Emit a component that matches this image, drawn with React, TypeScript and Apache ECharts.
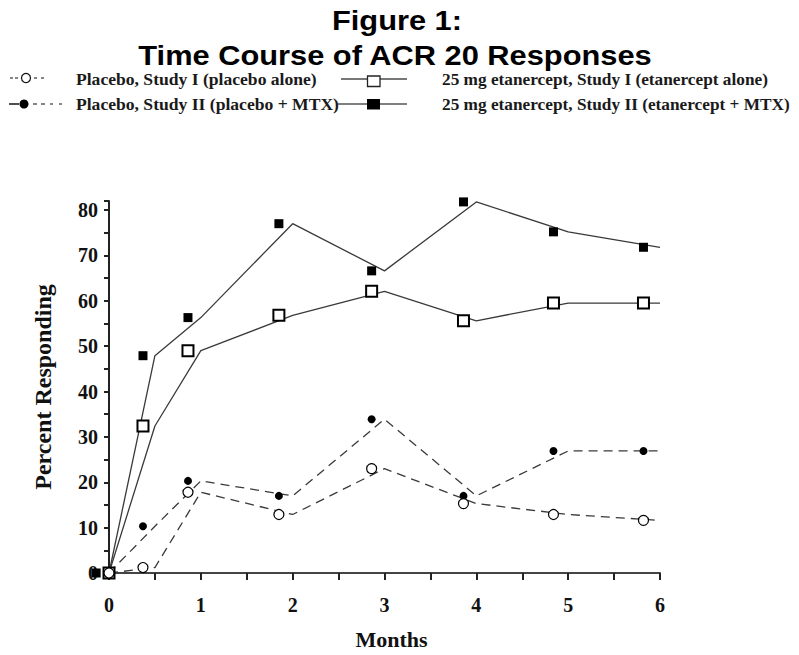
import { useEffect, useRef } from "react";
import * as echarts from "echarts";

// ---- data ----
const lineMonths = [0, 0.5, 1, 2, 3, 4, 5, 6];
const markerMonths = [0, 0.37, 0.86, 1.85, 2.86, 3.86, 4.84, 5.82];
const markerMonthsEtanMtx = [-0.14, 0.37, 0.86, 1.85, 2.86, 3.86, 4.84, 5.82];

const placeboAlone = [0, 1.2, 17.8, 12.9, 23.0, 15.3, 12.9, 11.6];
const placeboMtx = [0, 10.3, 20.3, 17.0, 33.9, 17.0, 26.9, 26.9];
const etanerceptAlone = [0, 32.4, 49.0, 56.8, 62.1, 55.6, 59.5, 59.5];
const etanerceptMtx = [0, 47.9, 56.3, 77.0, 66.6, 81.8, 75.2, 71.8];

const titleLines = ["Figure 1:", "Time Course of ACR 20 Responses"];
const legendLabels = [
  "Placebo, Study I (placebo alone)",
  "Placebo, Study II (placebo + MTX)",
  "25 mg etanercept, Study I (etanercept alone)",
  "25 mg etanercept, Study II (etanercept + MTX)",
];
const xAxisName = "Months";
const yAxisName = "Percent Responding";

const SERIF = "'Liberation Serif', 'Times New Roman', serif";
const SANS = "'Liberation Sans', Arial, sans-serif";
const LINE_COLOR = "#3a3a3a";

const pairs = (xs: number[], ys: number[]) => xs.map((x, i) => [x, ys[i]]);

export default function App() {
  const ref = useRef<HTMLDivElement>(null);
  useEffect(() => {
    if (!ref.current) return;
    const chart = echarts.init(ref.current, null, { renderer: "svg" });

    const lineSeries = (name: string, values: number[], dashed: boolean) => ({
      name,
      type: "line",
      data: pairs(lineMonths, values),
      symbol: "none",
      lineStyle: { color: LINE_COLOR, width: 1.3, type: dashed ? [9, 6] : "solid" },
      z: 2,
    });
    const markerSeries = (
      name: string,
      xs: number[],
      values: number[],
      symbol: string,
      size: number,
      filled: boolean,
      borderWidth: number
    ) => ({
      name,
      type: "scatter",
      data: pairs(xs, values),
      symbol,
      symbolSize: size,
      clip: false,
      itemStyle: {
        color: filled ? "#000" : "#fff",
        borderColor: "#000",
        borderWidth: filled ? 0 : borderWidth,
        opacity: 1,
      },
      z: 3,
    });

    const legendText = (text: string, x: number, y: number, sx: number) => ({
      type: "text",
      x,
      y,
      scaleX: sx,
      style: {
        text,
        fontFamily: SERIF,
        fontWeight: "bold",
        fontSize: 16,
        fill: "#1a1a1a",
        textAlign: "left",
        textVerticalAlign: "middle",
        verticalAlign: "middle",
      },
    });
    const seg = (x1: number, x2: number, y: number, w = 1.3, color = "#444") => ({
      type: "line",
      shape: { x1, y1: y, x2, y2: y },
      style: { stroke: color, lineWidth: w },
    });

    chart.setOption({
      animation: false,
      backgroundColor: "#fff",
      grid: { left: 109, right: 139, top: 201, bottom: 78, containLabel: false },
      xAxis: {
        type: "value",
        min: 0,
        max: 6,
        interval: 0.5,
        name: xAxisName,
        nameLocation: "middle",
        nameGap: 55,
        nameTextStyle: {
          fontFamily: SERIF,
          fontWeight: "bold",
          fontSize: 22,
          color: "#111",
          padding: [0, 0, 0, 14],
        },
        axisLine: { show: true, onZero: false, lineStyle: { color: "#444", width: 2 } },
        axisTick: { show: true, inside: false, length: 7, lineStyle: { color: "#222", width: 2 } },
        axisLabel: {
          margin: 22,
          fontFamily: SERIF,
          fontWeight: "bold",
          fontSize: 20,
          color: "#111",
          formatter: (v: number) => (Number.isInteger(v) ? String(v) : ""),
        },
        splitLine: { show: false },
      },
      yAxis: {
        type: "value",
        min: 0,
        max: 82,
        interval: 5,
        name: yAxisName,
        nameLocation: "middle",
        nameRotate: 90,
        nameGap: 54,
        nameTextStyle: {
          fontFamily: SERIF,
          fontWeight: "bold",
          fontSize: 24,
          color: "#111",
        },
        axisLine: { show: true, onZero: false, lineStyle: { color: "#222", width: 2 } },
        axisTick: { show: true, inside: false, length: 5, lineStyle: { color: "#222", width: 2 } },
        axisLabel: {
          margin: 11,
          fontFamily: SERIF,
          fontWeight: "bold",
          fontSize: 20,
          color: "#111",
          formatter: (v: number) => (v % 10 === 0 ? String(v) : ""),
        },
        splitLine: { show: false },
      },
      graphic: [
        {
          type: "text",
          x: 397,
          y: 20,
          scaleX: 1.1,
          style: {
            text: titleLines[0],
            fontFamily: SANS,
            fontWeight: "bold",
            fontSize: 28,
            fill: "#000",
            textAlign: "center",
            textVerticalAlign: "middle",
            verticalAlign: "middle",
          },
        },
        {
          type: "text",
          x: 395,
          y: 55,
          scaleX: 1.1,
          style: {
            text: titleLines[1],
            fontFamily: SANS,
            fontWeight: "bold",
            fontSize: 28,
            fill: "#000",
            textAlign: "center",
            textVerticalAlign: "middle",
            verticalAlign: "middle",
          },
        },
        // legend row 1 left: - -o- -
        seg(10, 13, 78), seg(15, 18, 78), seg(34, 37, 78), seg(41, 44, 78),
        {
          type: "circle",
          shape: { cx: 26, cy: 78, r: 4.5 },
          style: { fill: "#fff", stroke: "#111", lineWidth: 1.2 },
        },
        legendText(legendLabels[0], 76, 80, 1.1),
        // legend row 2 left: -●- - - -
        seg(9, 19, 104, 1.6, "#222"), seg(33, 37, 104), seg(41, 45, 104), seg(50, 53, 104), seg(59, 62, 104),
        {
          type: "circle",
          shape: { cx: 24, cy: 104, r: 4.5 },
          style: { fill: "#000" },
        },
        legendText(legendLabels[1], 76, 105, 1.1),
        // legend row 1 right: open square with solid line
        seg(341, 367, 79, 1.6, "#555"), seg(380, 407, 79, 1.6, "#555"),
        {
          type: "rect",
          shape: { x: 367.5, y: 76, width: 12.5, height: 10.5 },
          style: { fill: "#fff", stroke: "#222", lineWidth: 1.3 },
        },
        legendText(legendLabels[2], 442, 80, 1.08),
        // legend row 2 right: filled square with solid line
        seg(338, 407, 104, 1.6, "#555"),
        {
          type: "rect",
          shape: { x: 367, y: 99, width: 13, height: 10.5 },
          style: { fill: "#000" },
        },
        legendText(legendLabels[3], 442, 105, 1.08),
      ],
      series: [
        lineSeries("line-placebo-alone", placeboAlone, true),
        lineSeries("line-placebo-mtx", placeboMtx, true),
        lineSeries("line-etanercept-alone", etanerceptAlone, false),
        lineSeries("line-etanercept-mtx", etanerceptMtx, false),
        markerSeries(legendLabels[1], markerMonths, placeboMtx, "circle", 8, true, 0),
        markerSeries(legendLabels[3], markerMonthsEtanMtx, etanerceptMtx, "rect", 9, true, 0),
        markerSeries(legendLabels[2], markerMonths, etanerceptAlone, "rect", 11, false, 2),
        markerSeries(legendLabels[0], markerMonths, placeboAlone, "circle", 10, false, 1.2),
      ],
    });
    return () => chart.dispose();
  }, []);
  return <div ref={ref} style={{ width: 799, height: 655, margin: -8 }} />;
}
